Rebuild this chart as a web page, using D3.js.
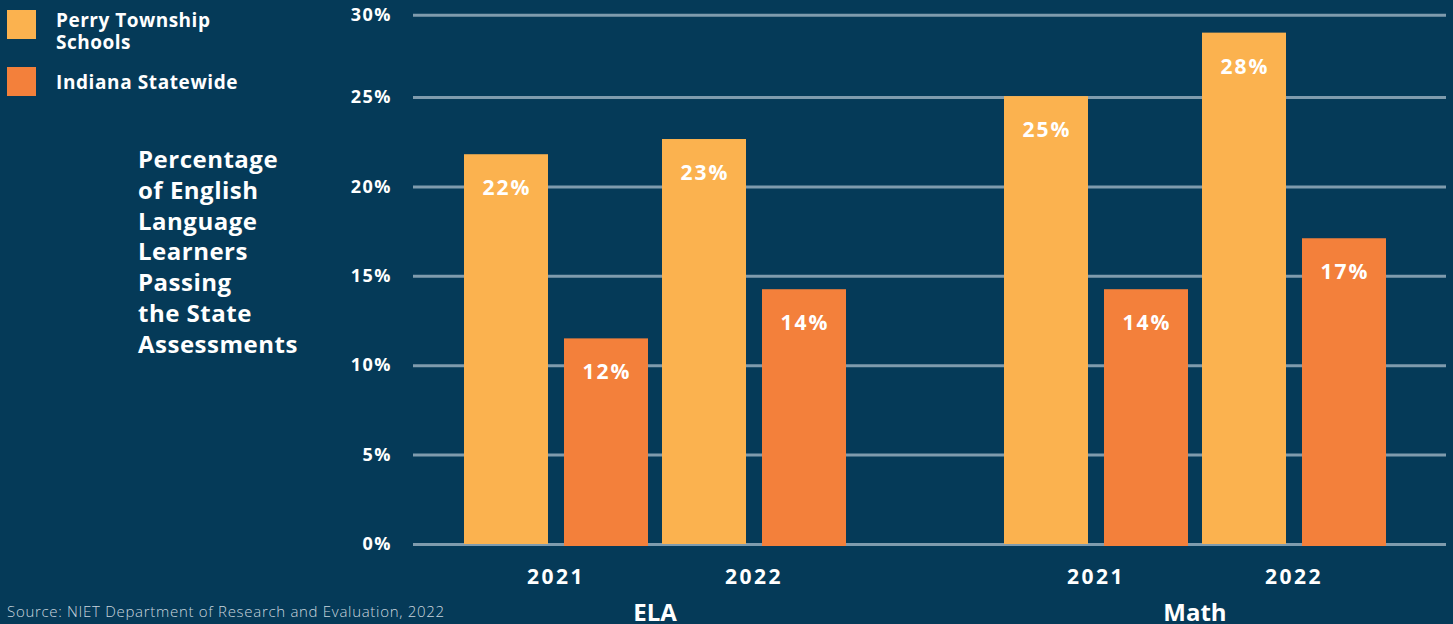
<!DOCTYPE html>
<html>
<head>
<meta charset="utf-8">
<script src="https://cdn.jsdelivr.net/npm/d3@7"></script>
<style>
  html, body { margin: 0; padding: 0; background: #053a58; }
  svg { display: block; font-family: "Open Sans", sans-serif; }
</style>
</head>
<body>
<svg id="chart" width="1453" height="624"></svg>
<script>
// chart data
const subjects = ["ELA", "Math"];
const years = ["2021", "2022"];
const series = ["Perry Township Schools", "Indiana Statewide"];
// order: ELA 2021, ELA 2022, Math 2021, Math 2022
const perryValues = [21.8, 22.65, 25.05, 28.6];
const indianaValues = [11.5, 14.25, 14.25, 17.1];
const perryLabels = ["22%", "23%", "25%", "28%"];
const indianaLabels = ["12%", "14%", "14%", "17%"];
// the top gridline sits a little below a true 30% in the original
const yTicks = [0, 5, 10, 15, 20, 25, 29.6];
const yTickLabels = ["0%", "5%", "10%", "15%", "20%", "25%", "30%"];
const titleLines = ["Percentage", "of English", "Language", "Learners", "Passing", "the State", "Assessments"];

const colors = { "Perry Township Schools": "#fbb24f", "Indiana Statewide": "#f3803b" };

let rows = [];
subjects.forEach((s, i) => {
    years.forEach((yr, j) => {
        let k = i * 2 + j;
        rows.push({ subject: s, year: yr, series: series[0], value: perryValues[k], label: perryLabels[k] });
        rows.push({ subject: s, year: yr, series: series[1], value: indianaValues[k], label: indianaLabels[k] });
    });
});

const svg = d3.select("#chart");

// scales
let y = d3.scaleLinear().domain([0, 25]).range([544, 97]);
let x0 = d3.scaleBand().domain(subjects).range([385, 1465]).padding(0);
let x1 = d3.scaleBand().domain(years).range([72, 468]).padding(0);
let x2 = d3.scaleBand().domain(series).range([0, x1.bandwidth()]).paddingInner(0.16).paddingOuter(0.07);

const gridLeft = 413, gridRight = 1446;

// y axis with gridlines
let yAxis = svg.append("g")
    .attr("transform", `translate(${gridLeft},0)`)
    .call(d3.axisLeft(y).tickValues(yTicks).tickFormat((d, i) => yTickLabels[i])
        .tickSizeInner(-(gridRight - gridLeft)).tickSizeOuter(0).tickPadding(21));
yAxis.select(".domain").remove();
yAxis.selectAll("line").attr("stroke", "#7f9bad").attr("stroke-width", 3);
yAxis.selectAll("text")
    .attr("fill", "#ffffff")
    .attr("font-size", 18)
    .attr("font-weight", 700)
    .attr("letter-spacing", 1.5)
    .attr("font-family", "Open Sans, sans-serif");

// bars
let barX = d => x0(d.subject) + x1(d.year) + x2(d.series);
svg.append("g").selectAll("rect")
    .data(rows)
    .join("rect")
    .attr("x", barX)
    .attr("y", d => y(d.value))
    .attr("width", x2.bandwidth())
    .attr("height", d => y(0) - y(d.value) + (d.series === series[1] ? 2 : 0))
    .attr("fill", d => colors[d.series]);

// value labels
svg.append("g").selectAll("text")
    .data(rows)
    .join("text")
    .attr("x", d => barX(d) + x2.bandwidth() / 2 + 1)
    .attr("y", d => y(d.value) + 41)
    .attr("text-anchor", "middle")
    .attr("fill", "#ffffff")
    .attr("font-size", 21)
    .attr("font-weight", 700)
    .attr("letter-spacing", 2)
    .text(d => d.label);

// year labels
let yearRows = [];
subjects.forEach(s => years.forEach(yr => yearRows.push({ subject: s, year: yr })));
svg.append("g").selectAll("text")
    .data(yearRows)
    .join("text")
    .attr("x", d => x0(d.subject) + x1(d.year) + x1.bandwidth() / 2)
    .attr("y", 584)
    .attr("text-anchor", "middle")
    .attr("fill", "#ffffff")
    .attr("font-size", 21)
    .attr("font-weight", 700)
    .attr("letter-spacing", 2.5)
    .text(d => d.year);

// subject labels
svg.append("g").selectAll("text")
    .data(subjects)
    .join("text")
    .attr("x", d => x0(d) + x0.bandwidth() / 2)
    .attr("y", 621)
    .attr("text-anchor", "middle")
    .attr("fill", "#ffffff")
    .attr("font-size", 24)
    .attr("font-weight", 700)
    .text(d => d);

// legend
let legend = svg.append("g");
legend.append("rect").attr("x", 7).attr("y", 10).attr("width", 29).attr("height", 29).attr("fill", colors[series[0]]);
legend.append("rect").attr("x", 7).attr("y", 67).attr("width", 29).attr("height", 29).attr("fill", colors[series[1]]);
let lt = legend.append("text").attr("fill", "#ffffff").attr("font-size", 19)
    .attr("font-weight", 700).attr("letter-spacing", 0.5);
lt.append("tspan").attr("x", 56).attr("y", 27).text("Perry Township");
lt.append("tspan").attr("x", 56).attr("y", 49).text("Schools");
legend.append("text").attr("x", 56).attr("y", 89).attr("fill", "#ffffff")
    .attr("font-size", 19).attr("font-weight", 700).attr("letter-spacing", 0.6).text(series[1]);

// side title
svg.append("g").selectAll("text")
    .data(titleLines)
    .join("text")
    .attr("x", 138)
    .attr("y", (d, i) => 168 + i * 30.8)
    .attr("fill", "#ffffff")
    .attr("font-size", 24)
    .attr("font-weight", 700)
    .attr("letter-spacing", 0.5)
    .text(d => d);

// source
svg.append("text")
    .attr("x", 7)
    .attr("y", 617)
    .attr("fill", "#c9d5de")
    .attr("font-size", 15)
    .attr("font-weight", 300)
    .attr("letter-spacing", 0.7)
    .text("Source: NIET Department of Research and Evaluation, 2022");
</script>
</body>
</html>
